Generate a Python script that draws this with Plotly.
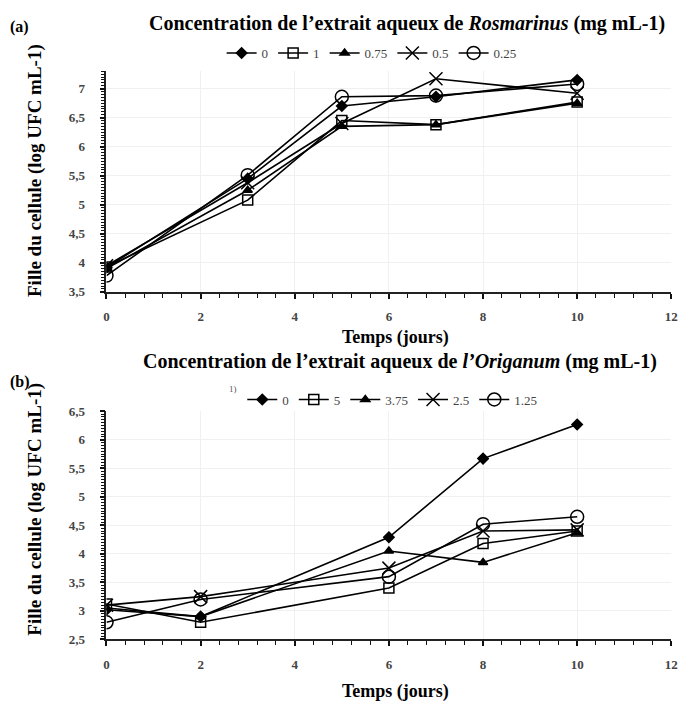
import plotly.graph_objects as go

# ---- data ----
days_a = [0, 3, 5, 7, 10]
names_a = ["0", "1", "0.75", "0.5", "0.25"]
a_0 = [3.92, 5.45, 6.70, 6.86, 7.15]
a_1 = [3.93, 5.08, 6.45, 6.38, 6.77]
a_075 = [3.90, 5.25, 6.35, 6.38, 6.75]
a_05 = [3.95, 5.38, 6.40, 7.17, 6.92]
a_025 = [3.78, 5.51, 6.86, 6.88, 7.08]

days_b = [0, 2, 6, 8, 10]
names_b = ["0", "5", "3.75", "2.5", "1.25"]
b_0 = [3.02, 2.90, 4.29, 5.67, 6.27]
b_5 = [3.12, 2.80, 3.40, 4.18, 4.40]
b_375 = [3.05, 2.90, 4.05, 3.85, 4.37]
b_25 = [3.10, 3.25, 3.75, 4.40, 4.42]
b_125 = [2.80, 3.20, 3.60, 4.52, 4.65]

x_range = [0, 12]
x_step = 2
ya_range = [3.5, 7.31]
yb_range = [2.5, 6.5]
y_step = 0.5

symbols = ["diamond", "square-open", "triangle-up", "x-thin-open", "circle-open"]
sizes = [8, 10, 8, 13, 13]

FONT = "Liberation Serif"
fig = go.Figure()

series_a = [a_0, a_1, a_075, a_05, a_025]
series_b = [b_0, b_5, b_375, b_25, b_125]
for i, (nm, ys) in enumerate(zip(names_a, series_a)):
    fig.add_trace(go.Scatter(
        x=days_a, y=ys, name=nm, mode="lines+markers",
        line=dict(color="black", width=1.6),
        marker=dict(symbol=symbols[i], size=sizes[i], color="black",
                    line=dict(color="black", width=1.5)),
        xaxis="x", yaxis="y", legend="legend"))
for i, (nm, ys) in enumerate(zip(names_b, series_b)):
    fig.add_trace(go.Scatter(
        x=days_b, y=ys, name=nm, mode="lines+markers",
        line=dict(color="black", width=1.6),
        marker=dict(symbol=symbols[i], size=sizes[i], color="black",
                    line=dict(color="black", width=1.5)),
        xaxis="x2", yaxis="y2", legend="legend2"))

xd = [105 / 699, 678 / 699]
axis_common = dict(
    showline=True, linecolor="#222", linewidth=1.6,
    ticks="outside", ticklen=5, tickcolor="#111", tickwidth=1.6,
    showgrid=True, gridcolor="#f0f0f0", gridwidth=1,
    zeroline=False, tickmode="linear",
    tickfont=dict(family=FONT, size=13, color="#444", weight="bold"),
)
minor_x = dict(dtick=0.4, tick0=0, ticks="outside", ticklen=4, tickcolor="#111", tickwidth=1.4, showgrid=False)
minor_y = dict(dtick=0.05, tick0=0, ticks="outside", ticklen=4, tickcolor="#111", tickwidth=1.0, showgrid=False)
fig.update_layout(
    width=699, height=711,
    margin=dict(l=0, r=0, t=0, b=0),
    paper_bgcolor="white", plot_bgcolor="white",
    separators=", ",
    font=dict(family=FONT, color="black"),
    xaxis=dict(domain=xd, anchor="y", range=x_range, tick0=0, dtick=x_step,
               minor=minor_x, ticklabelstandoff=7, **axis_common),
    yaxis=dict(domain=[1 - 291 / 711, 1 - 65 / 711], anchor="x", range=ya_range,
               tick0=3.5, dtick=y_step, minor=minor_y, ticklabelstandoff=12, **axis_common),
    xaxis2=dict(domain=xd, anchor="y2", range=x_range, tick0=0, dtick=x_step,
                minor=minor_x, ticklabelstandoff=7, **axis_common),
    yaxis2=dict(domain=[1 - 646 / 711, 1 - 413 / 711], anchor="x2", range=yb_range,
                tick0=2.5, dtick=y_step, minor=minor_y, ticklabelstandoff=12, **axis_common),
    legend=dict(orientation="h", x=0.535, y=1 - 47 / 711, xanchor="center", yanchor="middle",
                font=dict(family=FONT, size=13, color="#444"), itemwidth=30,
                bgcolor="rgba(0,0,0,0)", tracegroupgap=0),
    legend2=dict(orientation="h", x=0.565, y=1 - 401 / 711, xanchor="center", yanchor="middle",
                 font=dict(family=FONT, size=13, color="#444"), itemwidth=30,
                 bgcolor="rgba(0,0,0,0)", tracegroupgap=0),
    showlegend=True,
)

ann = []
def add(text, x, y, size, angle=0, bold=True, color="black", xanchor="center"):
    ann.append(dict(text=("<b>%s</b>" % text) if bold else text,
                    x=x / 699, y=1 - y / 711, xref="paper", yref="paper",
                    showarrow=False, textangle=angle, xanchor=xanchor, yanchor="middle",
                    font=dict(family=FONT, size=size, color=color)))

add("Concentration de l’extrait aqueux de <i>Rosmarinus</i> (mg mL-1)", 410, 17, 20)
add("Concentration de l’extrait aqueux de <i>l’Origanum</i> (mg mL-1)", 403, 362, 20)
add("Temps (jours)", 398, 338, 18)
add("Temps (jours)", 398, 699, 18)
add("(a)", 17, 20, 16)
add("(b)", 17, 383, 16)
add("Fille du cellule (log UFC mL-1)", 33, 167, 19, angle=-90)
add("Fille du cellule (log UFC mL-1)", 33, 513, 19, angle=-90)
add("1)", 233, 390, 9, bold=False, color="#555")
fig.update_layout(annotations=ann)

fig.write_html("out.html")
